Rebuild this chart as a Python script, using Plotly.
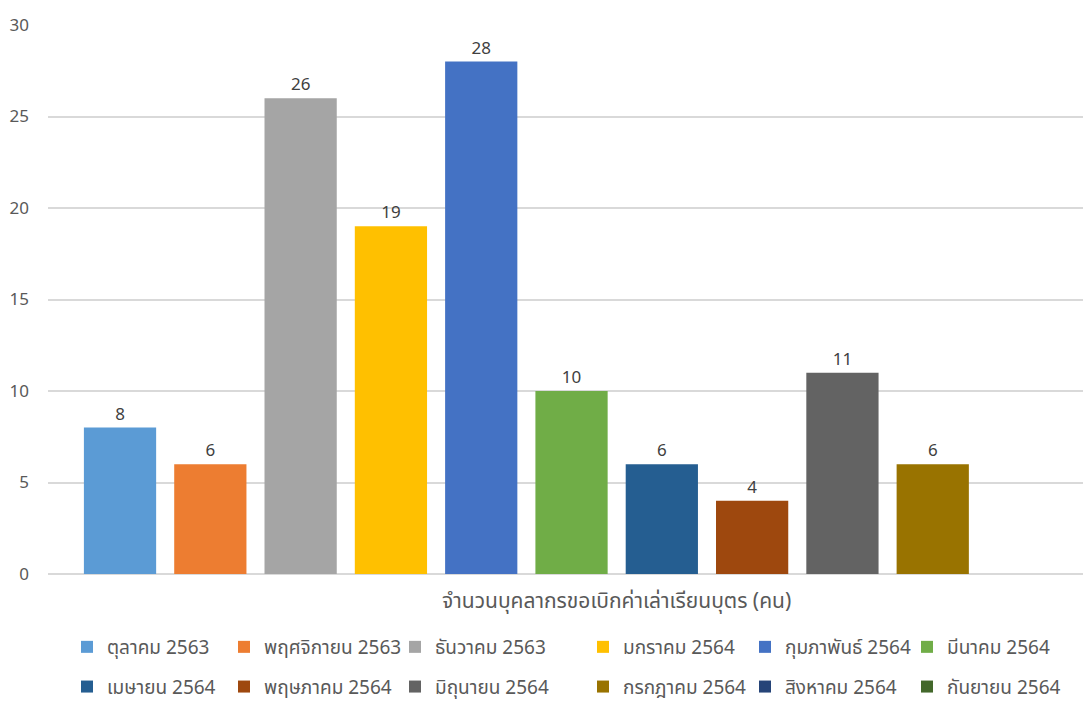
import plotly.graph_objects as go

category = ["จำนวนบุคลากรขอเบิกค่าเล่าเรียนบุตร (คน)"]
months = ["ตุลาคม 2563", "พฤศจิกายน 2563", "ธันวาคม 2563", "มกราคม 2564",
          "กุมภาพันธ์ 2564", "มีนาคม 2564", "เมษายน 2564", "พฤษภาคม 2564",
          "มิถุนายน 2564", "กรกฎาคม 2564", "สิงหาคม 2564", "กันยายน 2564"]
values = [8, 6, 26, 19, 28, 10, 6, 4, 11, 6, None, None]
colors = ["#5B9BD5", "#ED7D31", "#A5A5A5", "#FFC000", "#4472C4", "#70AD47",
          "#255E91", "#9E480E", "#636363", "#997300", "#264478", "#43682B"]
y_ticks = [0, 5, 10, 15, 20, 25, 30]

FONT = "Segoe UI, Noto Sans, Noto Sans Thai, Tahoma, sans-serif"
W, H = 1091, 704
ML, MR, MT, MB = 40, 0, 17, 138
PW, PH = W - ML - MR, H - MT - MB

# legend columns (text start pixel x on screen)
col_text_x = [108, 265, 436, 624, 786, 948]

fig = go.Figure()
for i, (m, v, c) in enumerate(zip(months, values, colors)):
    col = i % 6
    leg = "legend" if col == 0 else f"legend{col + 1}"
    fig.add_trace(go.Bar(
        x=category, y=[v], name=m,
        marker=dict(color=c, line=dict(width=0)),
        texttemplate="%{y}", textposition="outside",
        textfont=dict(color="#404040", size=17, family=FONT),
        cliponaxis=False,
        legend=leg, legendgroup=m,
    ))

layout_legends = {}
for col in range(6):
    key = "legend" if col == 0 else f"legend{col + 1}"
    layout_legends[key] = dict(
        xref="paper", yref="paper",
        x=(col_text_x[col] - 49 - ML) / PW, xanchor="left",
        y=(MT + PH - 620) / PH, yanchor="top",
        orientation="v", tracegroupgap=12,
        font=dict(size=19, color="#595959", family=FONT),
        bgcolor="rgba(0,0,0,0)", borderwidth=0,
        itemclick=False, itemdoubleclick=False,
    )

fig.update_layout(
    width=W, height=H,
    margin=dict(l=ML, r=MR, t=MT, b=MB, autoexpand=False),
    paper_bgcolor="white", plot_bgcolor="white",
    barmode="group", bargap=0, bargroupgap=0.2,
    font=dict(family=FONT, color="#595959", size=17),
    showlegend=True,
    xaxis=dict(type="category", range=[-0.5248, 0.4451],
               showgrid=False, showline=False, ticks="",
               tickfont=dict(size=21, color="#595959"),
               ticklabelstandoff=12, automargin=False),
    yaxis=dict(range=[0, 30], tickvals=y_ticks, showgrid=True,
               gridcolor="#D9D9D9", gridwidth=1.5,
               zeroline=True, zerolinecolor="#D9D9D9", zerolinewidth=1.5,
               showline=False, ticks="", ticklabelstandoff=18,
               tickfont=dict(size=17, color="#595959"), automargin=False),
    **layout_legends,
)

fig.write_html("out.html")
